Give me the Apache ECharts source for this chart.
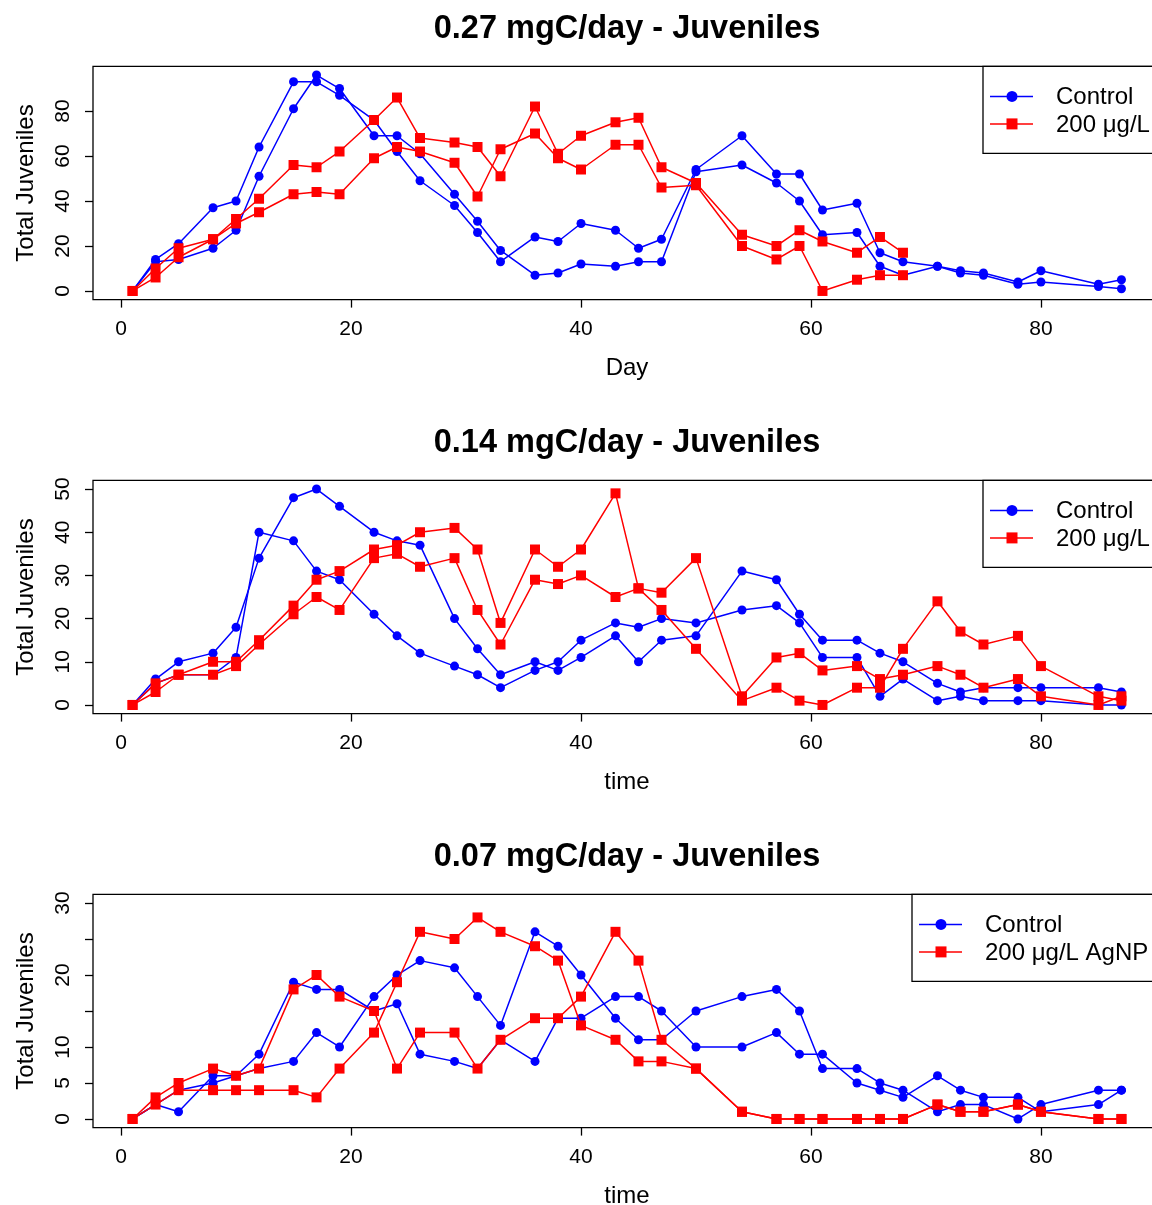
<!DOCTYPE html>
<html>
<head>
<meta charset="utf-8">
<script src="https://cdn.jsdelivr.net/npm/echarts@6/dist/echarts.min.js"></script>
<style>
html,body{margin:0;padding:0;background:#fff;}
#chart{width:1152px;height:1205px;}
</style>
</head>
<body>
<div id="chart"></div>
<script>
// ---- data ----
const days = [1,3,5,8,10,12,15,17,19,22,24,26,29,31,33,36,38,40,43,45,47,50,54,57,59,61,64,66,68,71,73,75,78,80,85,87];

const titles = ['0.27 mgC/day - Juveniles', '0.14 mgC/day - Juveniles', '0.07 mgC/day - Juveniles'];
const xNames = ['Day', 'time', 'time'];
const yName = 'Total Juveniles';
const legendControl = 'Control';
const legendTreat = ['200 \u03bcg/L', '200 \u03bcg/L', '200 \u03bcg/L AgNP'];

const xTicks = [0, 20, 40, 60, 80];
const yTicks1 = [0, 20, 40, 60, 80];
const yTicks2 = [0, 10, 20, 30, 40, 50];
const yTickMarks3 = [0, 5, 10, 15, 20, 25, 30];
const yTicks3 = [0, 5, 10, 20, 30];

// panel 1 (0.27 mgC/day)
const p1Control1 = [0,14,21,37,40,64,93,93,87,76,62,49,38,26,13,24,22,30,27,19,23,54,69,52,52,36,39,17,13,11,9,8,4,9,3,5];
const p1Control2 = [0,13,14,19,27,51,81,96,90,69,69,61,43,31,18,7,8,12,11,13,13,53,56,48,40,25,26,11,7,11,8,7,3,4,2,1];
const p1Treat1 = [0,10,19,23,32,41,56,55,62,76,86,68,66,64,51,82,61,69,75,77,55,48,25,20,27,22,17,24,17];
const p1Treat2 = [0,6,15,23,30,35,43,44,43,59,64,62,57,42,63,70,59,54,65,65,46,47,20,14,20,0,5,7,7];

// panel 2 (0.14 mgC/day)
const p2Control1 = [0,6,10,12,18,34,48,50,46,40,38,37,20,13,7,10,8,11,16,10,15,16,31,29,21,15,15,12,10,5,3,4,4,4,4,3];
const p2Control2 = [0,5,7,7,11,40,38,31,29,21,16,12,9,7,4,8,10,15,19,18,20,19,22,23,19,11,11,2,6,1,2,1,1,1,0,0];
const p2Treat1 = [0,5,7,10,10,15,23,29,31,36,37,40,41,36,19,36,32,36,49,27,22,13,1,4,1,0,4,4,13,24,17,14,16,9,2,1];
const p2Treat2 = [0,3,7,7,9,14,21,25,22,34,35,32,34,22,14,29,28,30,25,27,26,34,2,11,12,8,9,6,7,9,7,4,6,2,0,2];

// panel 3 (0.07 mgC/day)
const p3Control1 = [0,2,1,6,6,9,19,18,18,15,16,9,8,7,11,8,14,14,17,17,15,10,10,12,9,9,5,4,3,6,4,3,3,1,2,4];
const p3Control2 = [0,2,4,5,6,7,8,12,10,17,20,22,21,17,13,26,24,20,14,11,11,15,17,18,15,7,7,5,4,1,2,2,0,2,4,4];
const p3Treat1 = [0,3,5,7,6,7,18,20,17,15,7,12,12,7,11,14,14,17,26,22,11,7,1,0,0,0,0,0,0,2,1,1,2,1,0,0];
const p3Treat2 = [0,2,4,4,4,4,4,3,7,12,19,26,25,28,26,24,22,13,11,8,8,7,1,0,0,0,0,0,0,2,1,1,2,1,0,0];

// ---- layout / style ----
const FONT = "'Liberation Sans', Arial, Helvetica, sans-serif";
const BLUE = '#0000FF', RED = '#FF0000';
const panelTops = [66.4, 480.4, 894.4];
const panelH = 233.2;
const gridLeft = 93, gridW = 1068;
const yRanges = [[-3.84, 99.84], [-2, 52], [-1.2, 31.2]];
const yLabelVals = [yTicks1, yTicks2, yTicks3];
const yTickVals = [yTicks1, yTicks2, yTickMarks3];
const panels = [
  [p1Control1, p1Control2, p1Treat1, p1Treat2],
  [p2Control1, p2Control2, p2Treat1, p2Treat2],
  [p3Control1, p3Control2, p3Treat1, p3Treat2]
];

function pairs(vals) { return vals.map((v, i) => [days[i], v]); }

const grids = [], xAxes = [], yAxes = [], series = [], graphics = [];
panels.forEach((p, k) => {
  grids.push({ left: gridLeft, top: panelTops[k], width: gridW, height: panelH,
    containLabel: false, outerBoundsMode: 'none',
    show: true, borderColor: '#000', borderWidth: 1.3, backgroundColor: 'transparent' });
  xAxes.push({ gridIndex: k, type: 'value', min: -2.44, max: 90.44, position: 'bottom',
    name: xNames[k], nameLocation: 'middle', nameGap: 57,
    nameTextStyle: { fontFamily: FONT, fontSize: 24, color: '#000' },
    axisLine: { show: false, onZero: false }, splitLine: { show: false },
    axisTick: { show: true, inside: false, length: 8, lineStyle: { color: '#000', width: 1.3 }, customValues: xTicks },
    axisLabel: { show: true, margin: 19, fontFamily: FONT, fontSize: 21, color: '#000', customValues: xTicks }
  });
  yAxes.push({ gridIndex: k, type: 'value', min: yRanges[k][0], max: yRanges[k][1], position: 'left',
    name: yName, nameLocation: 'middle', nameGap: 55, nameRotate: 90,
    nameTextStyle: { fontFamily: FONT, fontSize: 24, color: '#000' },
    axisLine: { show: false, onZero: false }, splitLine: { show: false },
    axisTick: { show: true, inside: false, length: 8, lineStyle: { color: '#000', width: 1.3 }, customValues: yTickVals[k] },
    axisLabel: { show: true, rotate: 90, margin: 19, fontFamily: FONT, fontSize: 21, color: '#000', customValues: yLabelVals[k] }
  });
  const defs = [
    { d: p[0], c: BLUE, s: 'circle', sz: 9, n: legendControl },
    { d: p[1], c: BLUE, s: 'circle', sz: 9, n: legendControl },
    { d: p[2], c: RED, s: 'rect', sz: 10, n: legendTreat[k] },
    { d: p[3], c: RED, s: 'rect', sz: 10, n: legendTreat[k] }
  ];
  defs.forEach((s, j) => {
    series.push({ type: 'line', name: s.n, xAxisIndex: k, yAxisIndex: k, data: pairs(s.d),
      symbol: s.s, symbolSize: s.sz, showAllSymbol: true, z: 2 + j,
      lineStyle: { color: s.c, width: 1.5 }, itemStyle: { color: s.c, borderWidth: 0 },
      emphasis: { disabled: true }, animation: false, silent: true });
  });

  // title
  graphics.push({ type: 'text',
    style: { text: titles[k], x: 627, y: panelTops[k] - 37, textAlign: 'center', textVerticalAlign: 'middle',
      font: 'bold 32.5px ' + FONT, fill: '#000' } });

  // legend
  const lx = (k === 2) ? 912 : 983;
  const top = panelTops[k];
  graphics.push({ type: 'rect', shape: { x: lx, y: top, width: 400, height: 87 },
    style: { fill: '#fff', stroke: '#000', lineWidth: 1.3 }, z: 50 });
  const rows = [{ c: BLUE, t: legendControl, sym: 'circle' }, { c: RED, t: legendTreat[k], sym: 'rect' }];
  rows.forEach((r, i) => {
    const yy = top + 30 + i * 27.5;
    graphics.push({ type: 'line', shape: { x1: lx + 7, y1: yy, x2: lx + 50, y2: yy },
      style: { stroke: r.c, lineWidth: 1.5 }, z: 51 });
    if (r.sym === 'circle') {
      graphics.push({ type: 'circle', shape: { cx: lx + 29, cy: yy, r: 5.5 }, style: { fill: r.c }, z: 52 });
    } else {
      graphics.push({ type: 'rect', shape: { x: lx + 23.5, y: yy - 5.5, width: 11, height: 11 }, style: { fill: r.c }, z: 52 });
    }
    graphics.push({ type: 'text', style: { text: r.t, x: lx + 73, y: yy + 1, textVerticalAlign: 'middle',
      font: '24px ' + FONT, fill: '#000' }, z: 52 });
  });
});

const chart = echarts.init(document.getElementById('chart'), null, { renderer: 'canvas' });
chart.setOption({
  backgroundColor: '#fff',
  animation: false,
  grid: grids, xAxis: xAxes, yAxis: yAxes, series: series,
  graphic: graphics
});
</script>
</body>
</html>
